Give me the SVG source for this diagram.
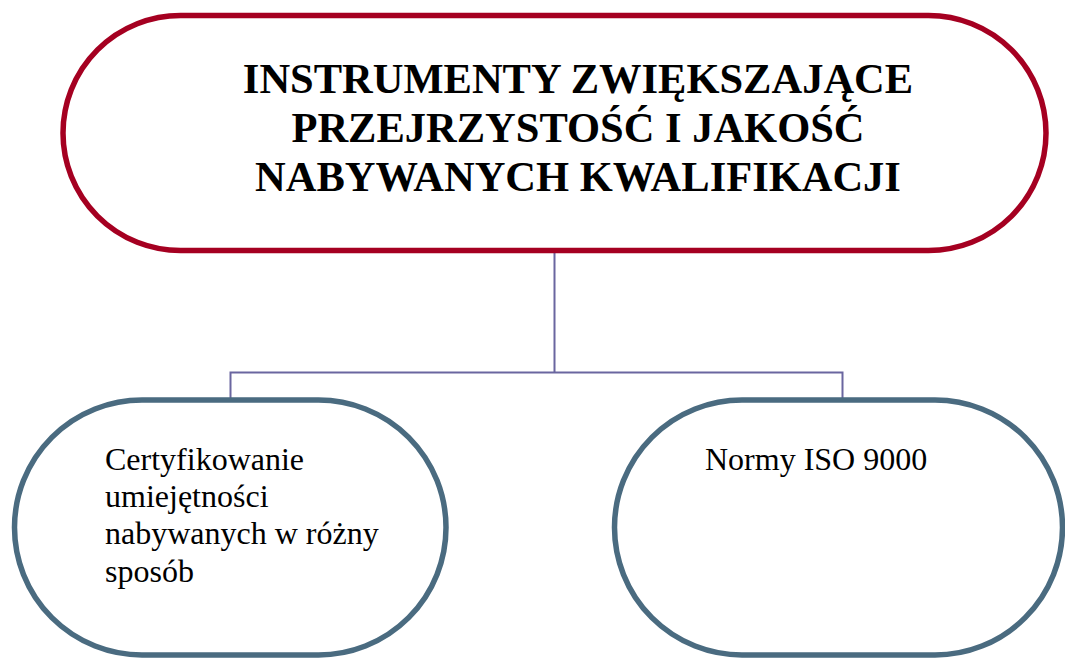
<svg xmlns="http://www.w3.org/2000/svg" width="1065" height="659" viewBox="0 0 1065 659">
<style>
.top{fill:#fff;stroke:#A50021;stroke-width:5.5}
.sub{fill:#fff;stroke:#4A6B80;stroke-width:5.5}
.conn{fill:none;stroke:#6A66A0;stroke-width:2}
.title{font-family:"Liberation Serif","Times New Roman",serif;font-weight:bold;font-size:42.5px;fill:#000;text-anchor:middle}
.lbl{font-family:"Liberation Serif","Times New Roman",serif;font-size:32px;fill:#000}
</style>
<rect width="1065" height="659" fill="#fff"/>
<g id="connectors">
<path class="conn" d="M554.5 250 V372.5 M230.5 400 V372.5 H842.5 V400"/>
</g>
<g id="node-main">
<rect class="top" x="63" y="15.5" width="983" height="235" rx="117.5" ry="117.5"/>
<text class="title" x="578" y="93">INSTRUMENTY ZWIĘKSZAJĄCE</text>
<text class="title" x="578" y="142">PRZEJRZYSTOŚĆ I JAKOŚĆ</text>
<text class="title" x="578" y="191">NABYWANYCH KWALIFIKACJI</text>
</g>
<g id="node-cert">
<rect class="sub" x="14.5" y="400" width="431.5" height="255" rx="127.5" ry="127.5"/>
<text class="lbl" x="105" y="470">Certyfikowanie</text>
<text class="lbl" x="105" y="507">umiejętności</text>
<text class="lbl" x="105" y="544">nabywanych w różny</text>
<text class="lbl" x="105" y="582">sposób</text>
</g>
<g id="node-iso">
<rect class="sub" x="614.5" y="400" width="448" height="255" rx="127.5" ry="127.5"/>
<text class="lbl" x="705" y="470">Normy ISO 9000</text>
</g>
</svg>
